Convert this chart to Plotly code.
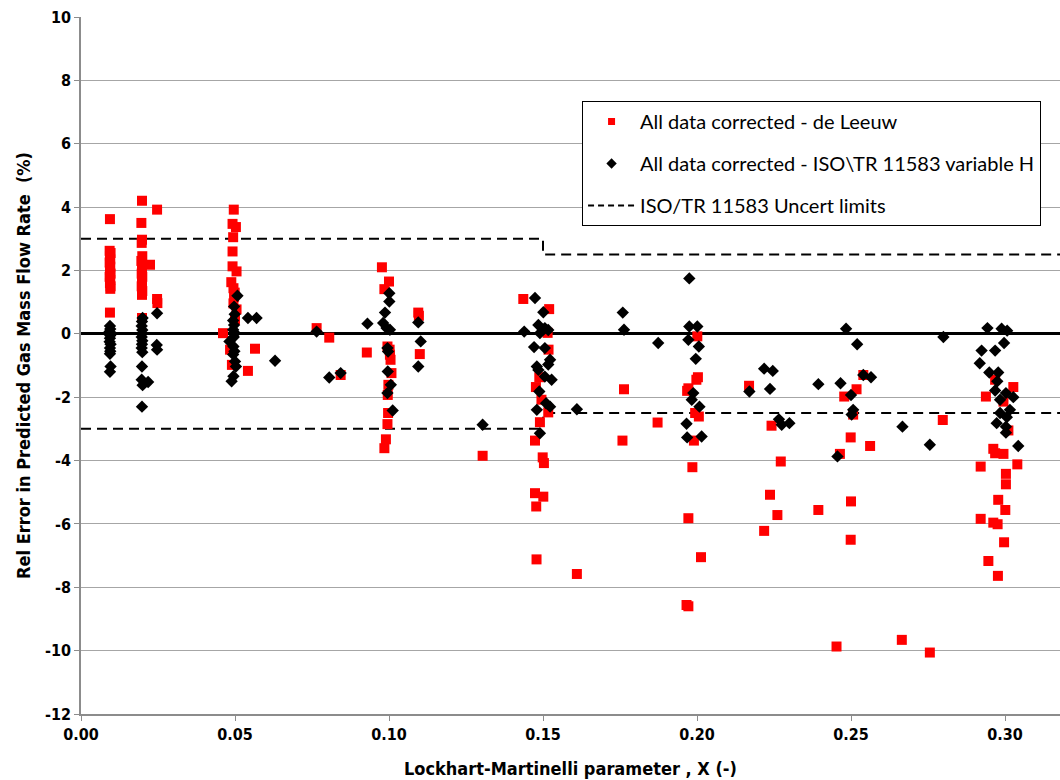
import plotly.graph_objects as go

# de Leeuw corrected data: Lockhart-Martinelli parameter X and relative error (%)
LEEUW_X = [
    # X ~ 0.01 / 0.02
    0.0094, 0.0093, 0.0096, 0.0094, 0.0095, 0.0093, 0.0095, 0.0094, 0.0096, 0.0093, 0.0095, 0.0094, 0.0096, 0.0095, 0.0094,
    0.0198, 0.0196, 0.0198, 0.0197, 0.0199, 0.0196, 0.0224, 0.0198, 0.0197, 0.0199, 0.0198, 0.0197, 0.0199, 0.0198, 0.0198,
    0.0247, 0.0247, 0.0248,
    # X ~ 0.05
    0.0496, 0.0492, 0.0503, 0.0494, 0.0492, 0.0492, 0.0505, 0.0488, 0.0495, 0.0499, 0.0497, 0.0495, 0.0505, 0.0500,
    0.0461, 0.0484, 0.0490, 0.0542, 0.0565,
    0.0765, 0.0806, 0.0843, 0.0928, 0.0977,
    # X ~ 0.10
    0.1000, 0.0985, 0.0995, 0.1002, 0.1003, 0.1005, 0.1008, 0.0998, 0.0996, 0.0997, 0.0995, 0.0990, 0.0985,
    0.1095, 0.1097, 0.1100,
    # X ~ 0.15
    0.1436, 0.1520, 0.1515, 0.1518, 0.1488, 0.1477, 0.1495, 0.1517, 0.1490, 0.1474, 0.1304, 0.1499, 0.1503,
    0.1474, 0.1501, 0.1478, 0.1479, 0.1610,
    # X ~ 0.20
    0.1763, 0.1758, 0.1872, 0.2001, 0.2003, 0.1998, 0.1972, 0.1968, 0.1994, 0.2006, 0.1990, 0.1985, 0.1972,
    0.2013, 0.1966, 0.1972,
    # X ~ 0.25
    0.2169, 0.2242, 0.2272, 0.2237, 0.2261, 0.2218, 0.2394, 0.2478, 0.2518, 0.2540, 0.2507, 0.2499, 0.2464,
    0.2562, 0.2500, 0.2499, 0.2453, 0.2665, 0.2798, 0.2756,
    # X ~ 0.30
    0.2968, 0.3027, 0.2938, 0.2995, 0.3011, 0.2962, 0.2968, 0.2995, 0.2921, 0.3040, 0.3003, 0.3003, 0.2978,
    0.3001, 0.2921, 0.2962, 0.2976, 0.2997, 0.2946, 0.2977,
]
LEEUW_Y = [
    3.62, 2.62, 2.55, 2.45, 2.35, 2.25, 2.12, 2.00, 1.90, 1.80, 1.70, 1.60, 1.50, 1.42, 0.67,
    4.20, 3.50, 2.97, 2.87, 2.45, 2.30, 2.18, 2.05, 1.90, 1.80, 1.65, 1.50, 1.35, 1.23, 0.50,
    3.92, 1.10, 0.97,
    3.92, 3.47, 3.37, 3.05, 2.60, 2.13, 1.97, 1.63, 1.44, 1.30, 1.17, 0.96, 0.77, 0.45,
    0.02, -0.50, -0.98, -1.17, -0.47,
    0.18, -0.12, -1.30, -0.59, 2.10,
    1.65, 1.41, -0.40, -0.50, -0.66, -0.82, -1.24, -1.61, -1.93, -2.50, -2.85, -3.33, -3.61,
    0.67, 0.57, -0.64,
    1.10, 0.78, 0.03, -0.50, -1.37, -1.68, -2.08, -2.48, -2.79, -3.37, -3.85, -3.90, -4.08,
    -5.03, -5.14, -5.45, -7.12, -7.58,
    -1.75, -3.37, -2.80, -0.08, -1.37, -1.45, -1.72, -1.80, -2.50, -2.61, -3.37, -4.21, -5.82,
    -7.05, -8.56, -8.60,
    -1.64, -2.90, -4.03, -5.08, -5.72, -6.22, -5.56, -1.98, -1.75, -1.30, -2.55, -3.27, -3.79,
    -3.54, -5.29, -6.50, -9.87, -9.66, -2.72, -10.06,
    -1.45, -1.68, -1.98, -2.14, -3.05, -3.63, -3.77, -3.79, -4.19, -4.12, -4.42, -4.75, -5.24,
    -5.56, -5.84, -5.96, -6.01, -6.58, -7.17, -7.64,
]

# ISO\TR 11583 corrected data with variable H
ISO_X = [
    0.0094, 0.0095, 0.0093, 0.0095, 0.0094, 0.0093, 0.0096, 0.0094, 0.0095, 0.0094, 0.0096, 0.0094,
    0.0200, 0.0198, 0.0197, 0.0199, 0.0198, 0.0197, 0.0199, 0.0198, 0.0197, 0.0199, 0.0198, 0.0197, 0.0218, 0.0200, 0.0198,
    0.0247, 0.0246, 0.0247,
    0.0508, 0.0497, 0.0499, 0.0494, 0.0497, 0.0494, 0.0500, 0.0496, 0.0482, 0.0495, 0.0498, 0.0494, 0.0500, 0.0503,
    0.0495, 0.0489, 0.0542, 0.0570, 0.0630,
    0.0765, 0.0806, 0.0843, 0.0930,
    0.1001, 0.1001, 0.0987, 0.0981, 0.0992, 0.1003, 0.0995, 0.0997, 0.0996, 0.1006, 0.0995, 0.1012,
    0.1095, 0.1103, 0.1095,
    0.1474, 0.1501, 0.1485, 0.1506, 0.1517, 0.1490, 0.1439, 0.1471, 0.1506, 0.1523, 0.1517, 0.1480, 0.1485,
    0.1506, 0.1528, 0.1488, 0.1510, 0.1480, 0.1523, 0.1610, 0.1490, 0.1304,
    0.1759, 0.1763, 0.1874, 0.1975, 0.1975, 0.2001, 0.1972, 0.2006, 0.1996, 0.1988, 0.1983, 0.2008, 0.1966,
    0.1968, 0.2015,
    0.2170, 0.2218, 0.2246, 0.2237, 0.2266, 0.2275, 0.2300, 0.2394, 0.2466, 0.2500, 0.2484, 0.2520, 0.2540,
    0.2565, 0.2507, 0.2502, 0.2456, 0.2667, 0.2800, 0.2756,
    0.2943, 0.2989, 0.3007, 0.2997, 0.2924, 0.2968, 0.2918, 0.2949, 0.2978, 0.2975, 0.2968, 0.3003, 0.3027,
    0.2984, 0.3016, 0.2984, 0.3006, 0.2973, 0.3003, 0.3003, 0.3043,
]
ISO_Y = [
    0.25, 0.15, 0.07, -0.05, -0.14, -0.25, -0.33, -0.45, -0.55, -0.63, -1.03, -1.20,
    0.50, 0.39, 0.25, 0.12, 0.00, -0.10, -0.22, -0.33, -0.45, -0.58, -1.03, -1.45, -1.52, -1.62, -2.30,
    0.65, -0.35, -0.50,
    1.20, 0.86, 0.62, 0.42, 0.28, 0.13, 0.02, -0.10, -0.24, -0.40, -0.55, -0.65, -0.87, -1.03,
    -1.34, -1.50, 0.50, 0.50, -0.85,
    0.07, -1.38, -1.24, 0.32,
    1.28, 1.02, 0.67, 0.34, 0.18, 0.13, -0.45, -0.56, -1.19, -1.61, -1.87, -2.42,
    0.36, -0.24, -1.03,
    1.13, 0.68, 0.28, 0.18, 0.12, 0.02, 0.07, -0.42, -0.45, -0.82, -0.97, -1.03, -1.14,
    -1.35, -1.45, -1.82, -2.19, -2.40, -2.30, -2.38, -3.14, -2.87,
    0.67, 0.13, -0.29, 1.75, 0.23, 0.23, -0.19, -0.40, -0.79, -1.87, -2.08, -2.30, -2.84,
    -3.27, -3.24,
    -1.82, -1.10, -1.17, -1.74, -2.70, -2.87, -2.82, -1.59, -1.56, -1.93, 0.16, -0.33, -1.30,
    -1.37, -2.40, -2.55, -3.87, -2.93, -0.10, -3.50,
    0.18, 0.16, 0.10, -0.29, -0.53, -0.53, -0.93, -1.22, -1.22, -1.50, -1.79, -1.87, -2.00,
    -2.08, -2.40, -2.50, -2.63, -2.82, -2.93, -3.12, -3.54,
]

# ISO/TR 11583 uncertainty limits (step at X = 0.15)
LIMIT_X = [0.0, 0.15, 0.15, 0.35]
LIMIT_UPPER = [3.0, 3.0, 2.5, 2.5]
LIMIT_LOWER = [-3.0, -3.0, -2.5, -2.5]

X_TICKS = [0.00, 0.05, 0.10, 0.15, 0.20, 0.25, 0.30]
Y_TICKS = list(range(-12, 11, 2))

NARROW = "Liberation Sans Narrow, DejaVu Sans Condensed, Arial Narrow, sans-serif"
LEGEND_FONT = "Lato, Carlito, Calibri, sans-serif"

fig = go.Figure()

# limit lines (upper and lower joined with a gap)
fig.add_trace(go.Scatter(
    x=LIMIT_X + [None] + LIMIT_X,
    y=LIMIT_UPPER + [None] + LIMIT_LOWER,
    mode="lines",
    line=dict(color="black", width=2, dash="10px,6px"),
    connectgaps=False,
    showlegend=False,
    hoverinfo="skip",
))

fig.add_trace(go.Scatter(
    x=LEEUW_X, y=LEEUW_Y, mode="markers",
    marker=dict(symbol="square", size=10, color="#ff0000", line=dict(width=0)),
    name="All data corrected - de Leeuw", showlegend=False,
))
fig.add_trace(go.Scatter(
    x=ISO_X, y=ISO_Y, mode="markers",
    marker=dict(symbol="diamond", size=9.5, color="black", line=dict(width=0)),
    name="All data corrected - ISO\\TR 11583 variable H", showlegend=False,
))

# legend entries with smaller symbols
fig.add_trace(go.Scatter(
    x=[None], y=[None], mode="markers",
    marker=dict(symbol="square", size=7, color="#ff0000"),
    name="All data corrected - de Leeuw", legendgroup="a",
))
fig.add_trace(go.Scatter(
    x=[None], y=[None], mode="markers",
    marker=dict(symbol="diamond", size=8, color="black"),
    name="All data corrected - ISO\\TR 11583 variable H", legendgroup="b",
))
fig.add_trace(go.Scatter(
    x=[None], y=[None], mode="lines",
    line=dict(color="black", width=2, dash="6px,4px"),
    name="ISO/TR 11583 Uncert limits", legendgroup="c",
))

fig.update_layout(
    width=1060, height=780,
    margin=dict(l=81, r=0, t=17, b=66, autoexpand=False),
    paper_bgcolor="white", plot_bgcolor="white",
    showlegend=True,
    legend=dict(
        x=0.5118, y=0.8795, xanchor="left", yanchor="top",
        bgcolor="white", bordercolor="black", borderwidth=1,
        font=dict(family=LEGEND_FONT, size=20, color="black"),
        tracegroupgap=13, itemwidth=47,
    ),
    xaxis=dict(
        range=[0, 979 / 3080],
        tickvals=X_TICKS, ticktext=[f"{v:.2f}" for v in X_TICKS],
        showgrid=False, zeroline=False,
        showline=True, linecolor="#8c8c8c", linewidth=1.5,
        ticks="outside", ticklen=5, tickcolor="#8c8c8c",
        tickfont=dict(family=NARROW, size=16, color="black", weight="bold"),
        title=dict(text="Lockhart-Martinelli parameter , X (-)", standoff=19,
                   font=dict(family=NARROW, size=18, color="black", weight="bold")),
    ),
    yaxis=dict(
        range=[-12, 10], tickvals=Y_TICKS, ticktext=[str(v) for v in Y_TICKS],
        showgrid=True, gridcolor="#a6a6a6", gridwidth=1,
        zeroline=True, zerolinecolor="black", zerolinewidth=3,
        showline=True, linecolor="#8c8c8c", linewidth=1.5,
        ticks="outside", ticklen=5, tickcolor="#8c8c8c",
        tickfont=dict(family=NARROW, size=16, color="black", weight="bold"),
        title=dict(text="Rel Error in Predicted Gas Mass Flow Rate\u00a0\u00a0(%)", standoff=10,
                   font=dict(family=NARROW, size=18, color="black", weight="bold")),
    ),
)

fig.write_html("out.html")
